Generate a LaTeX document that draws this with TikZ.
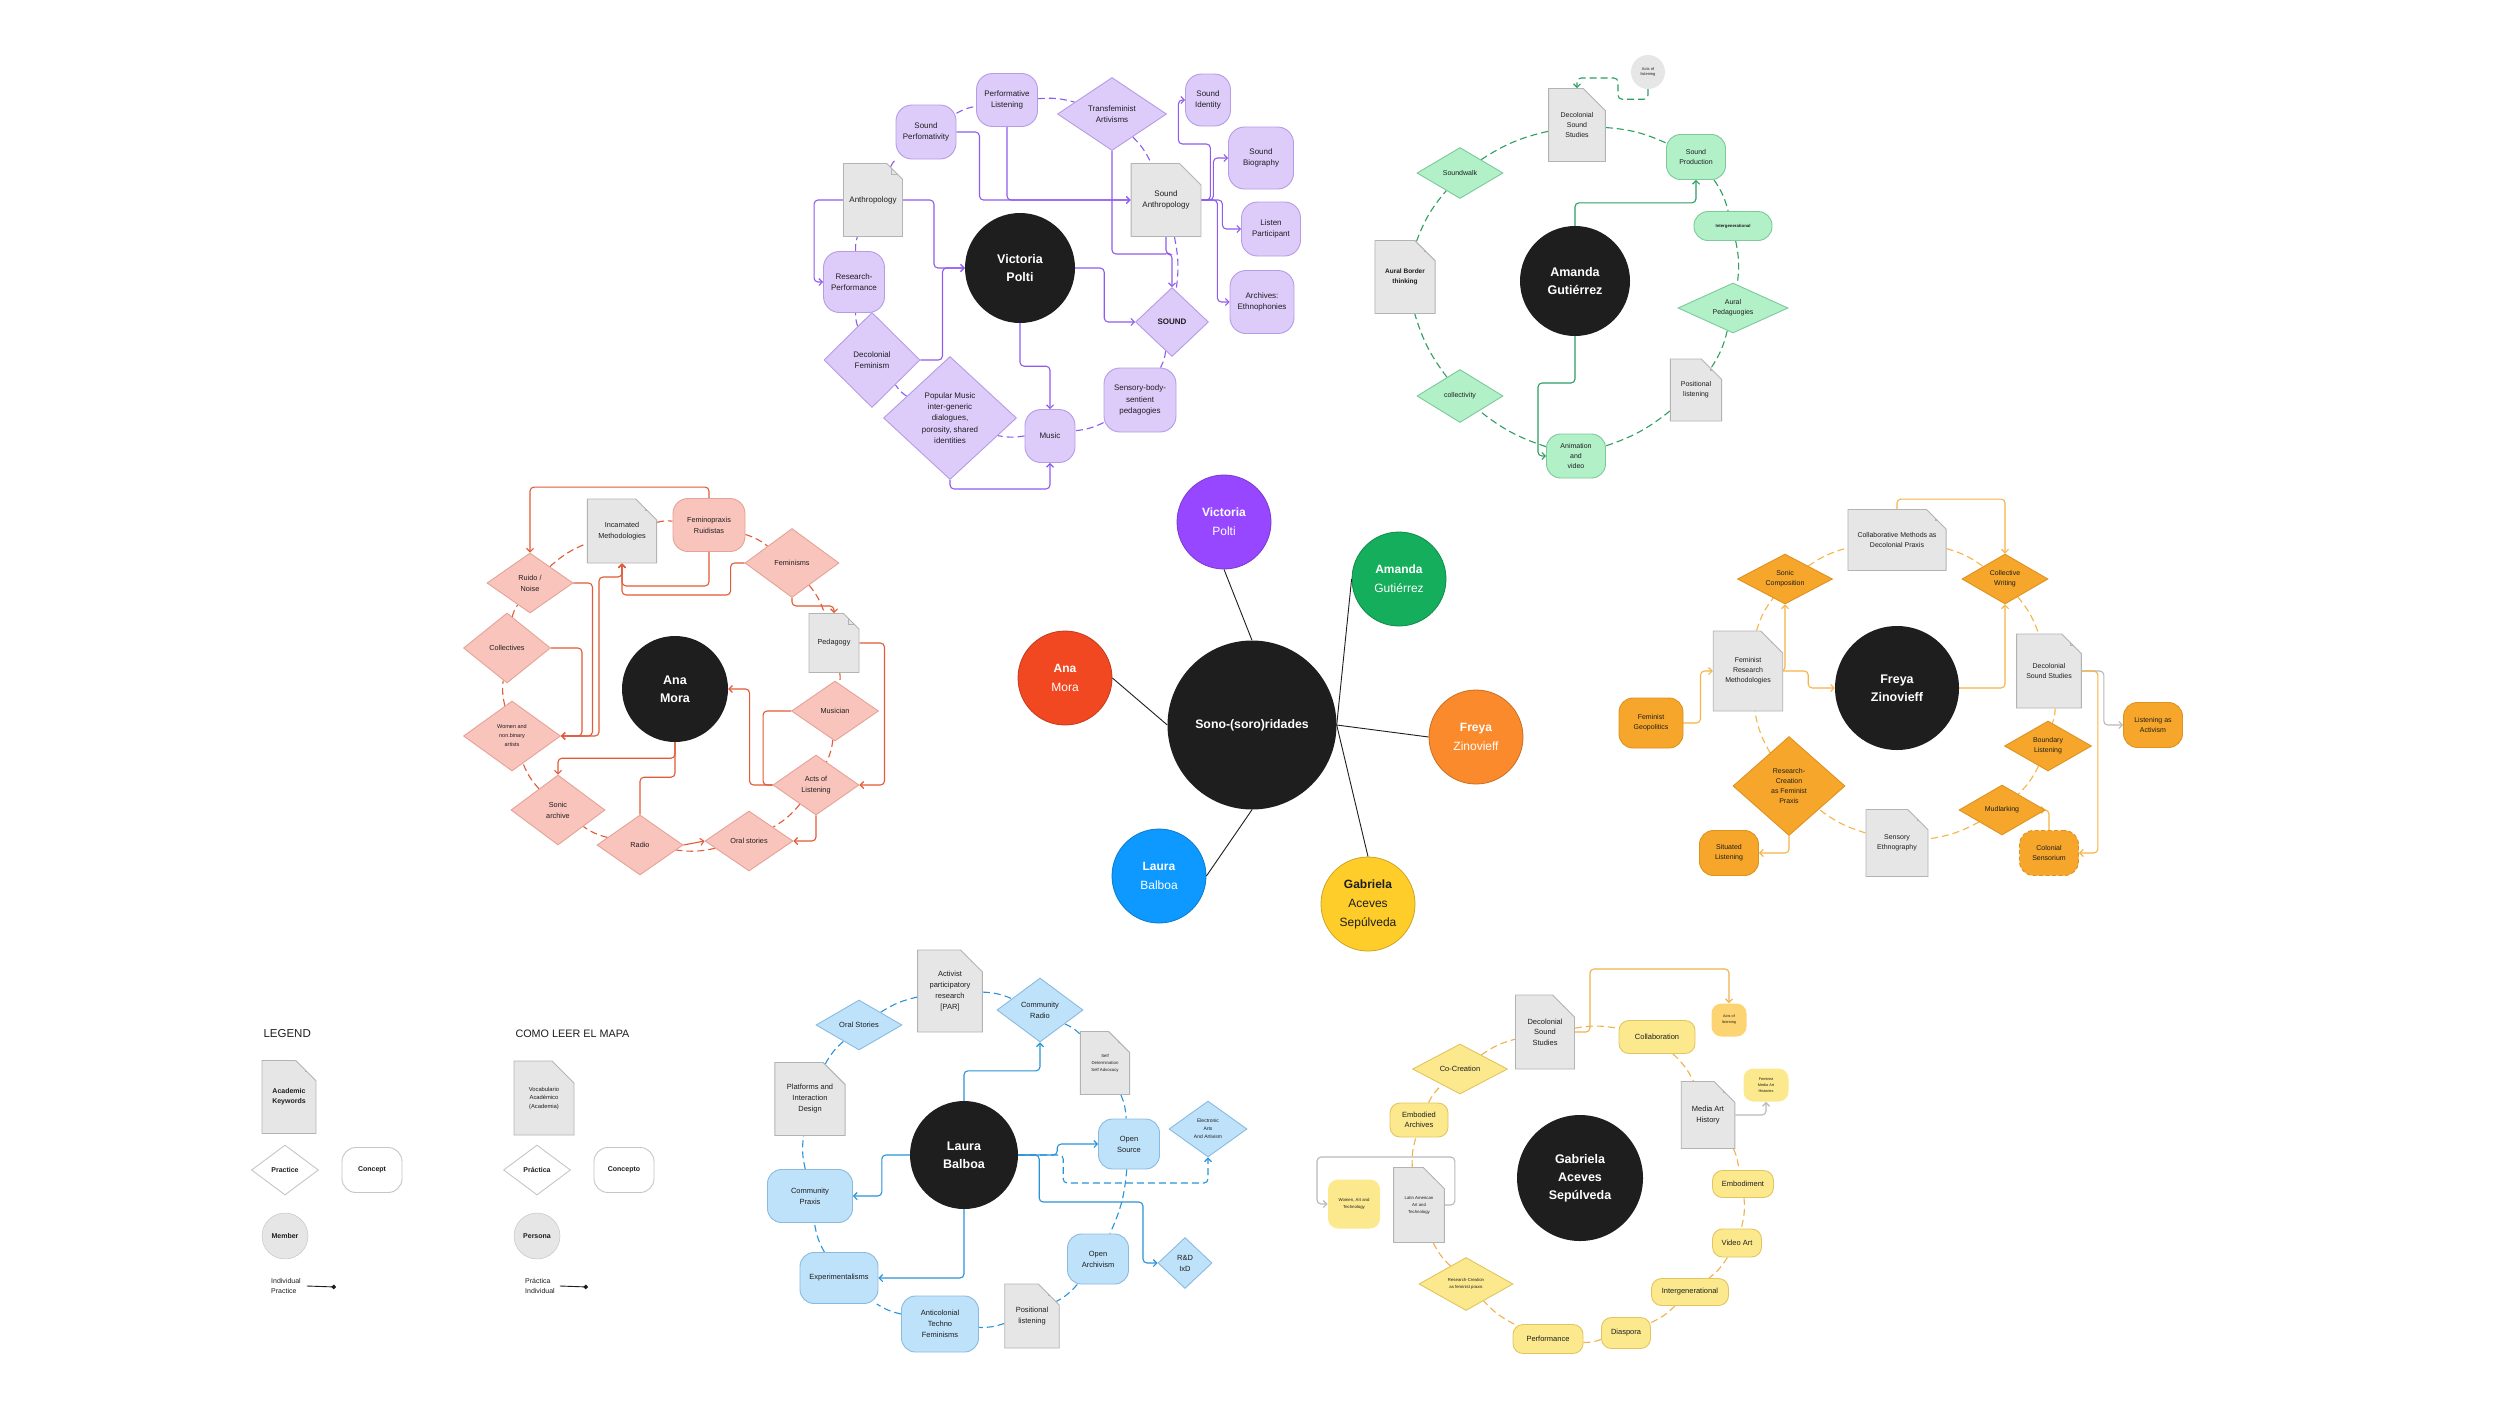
\documentclass[tikz,border=0pt]{standalone}
\usepackage{fontspec}
\setmainfont{Liberation Sans}
\usetikzlibrary{positioning, shapes.geometric, shapes.misc, arrows.meta, backgrounds}

\definecolor{ink}{HTML}{1E1E1E}
\definecolor{docfill}{HTML}{E6E6E6}
\definecolor{docdraw}{HTML}{B3B3B3}
\definecolor{cvic}{HTML}{9747FF}
\definecolor{cama}{HTML}{14AE5C}
\definecolor{cana}{HTML}{F24822}
\definecolor{cfre}{HTML}{FA8A2C}
\definecolor{clau}{HTML}{0D99FF}
\definecolor{cgab}{HTML}{FFCD29}
\definecolor{vfill}{HTML}{DDCCFA}\definecolor{vdraw}{HTML}{B69BE6}\definecolor{vline}{HTML}{8F5BEF}
\definecolor{afill}{HTML}{B2F0C8}\definecolor{adraw}{HTML}{7CC99A}\definecolor{aline}{HTML}{2F9E62}
\definecolor{rfill}{HTML}{F9C4BC}\definecolor{rdraw}{HTML}{E5A297}\definecolor{rline}{HTML}{E25A37}
\definecolor{ofill}{HTML}{F6A62A}\definecolor{odraw}{HTML}{DE9220}\definecolor{oline}{HTML}{F5B547}
\definecolor{bfill}{HTML}{BFE2FB}\definecolor{bdraw}{HTML}{8BBADF}\definecolor{bline}{HTML}{2A93D8}
\definecolor{yfill}{HTML}{FCE98E}\definecolor{ydraw}{HTML}{E2C55E}\definecolor{yline}{HTML}{F0B24C}
\colorlet{kfill}{white}\colorlet{kdraw}{gray}\colorlet{kline}{ink}

\newcommand{\setfs}[2]{\fontsize{#1}{#2}\selectfont}
\newcommand{\crad}{13pt}
\newcommand{\kfont}{\setfs{8}{10.5}}

\tikzset{
  hub/.style={circle, fill=ink, text=white, minimum size=169pt, inner sep=0pt, font=\bfseries\setfs{12.3}{15}},
  person/.style={circle, draw=#1!80!black, line width=0.8pt, fill=#1, text=white, minimum size=94pt, inner sep=0pt, align=center, font=\setfs{12}{19}},
  member/.style={circle, fill=ink, text=white, minimum size=#1, inner sep=0pt, align=center, font=\bfseries\setfs{12.5}{18}},
  concept/.style 2 args={rectangle, rounded corners=\crad, draw=kdraw, fill=kfill, line width=0.9pt, minimum width=#1pt, minimum height=#2pt, inner sep=1pt, align=center, text=ink, font=\kfont},
  practice/.style 2 args={diamond, aspect=2, draw=kdraw, fill=kfill, line width=0.9pt, minimum width=#1pt, minimum height=#2pt, inner sep=0pt, align=center, text=ink, font=\kfont},
  keyword/.style 2 args={chamfered rectangle, chamfered rectangle corners=north east, chamfered rectangle sep=11pt, draw=docdraw, fill=docfill, line width=0.9pt, minimum width=#1pt, minimum height=#2pt, inner sep=1pt, align=center, text=ink, font=\kfont,
    path picture={\draw[docdraw, line width=0.9pt] ([xshift=-11pt]path picture bounding box.north east) |- ([yshift=-11pt]path picture bounding box.north east);}},
  link/.style={draw=kline, line width=1.1pt, rounded corners=4pt, -{Straight Barb[length=3.5pt, width=7pt]}},
  dashlink/.style={link, dash pattern=on 7pt off 4pt},
  ring/.style={draw=kline, line width=1.1pt, dash pattern=on 7pt off 4pt},
  spoke/.style={draw=ink, line width=0.9pt},
  indiv/.style={draw=ink, line width=0.9pt, -{Circle[length=4.5pt]}},
}

\begin{document}
\begin{tikzpicture}[x=1pt, y=-1pt]
\useasboundingbox (0,0) rectangle (2500,1406);
\begin{scope}[on background layer]
  \fill[white] (0,0) rectangle (2500,1406);
\end{scope}

\node[hub] (sono) at (1252,725) {Sono-(soro)ridades};
\node[person=cvic] (pvic) at (1224,522) {\textbf{Victoria}\\Polti};
\node[person=cama] (pama) at (1399,579) {\textbf{Amanda}\\Gutiérrez};
\node[person=cana] (pana) at (1065,678) {\textbf{Ana}\\Mora};
\node[person=cfre] (pfre) at (1476,737) {\textbf{Freya}\\Zinovieff};
\node[person=clau] (plau) at (1159,876) {\textbf{Laura}\\Balboa};
\node[person=cgab, text=ink] (pgab) at (1368,904) {\textbf{Gabriela}\\Aceves\\Sepúlveda};
\draw[spoke] (pvic.south) -- (sono.north);
\draw[spoke] (pama.west) -- (sono.east);
\draw[spoke] (pfre.west) -- (sono.east);
\draw[spoke] (pgab.north) -- (sono.east);
\draw[spoke] (plau.east) -- (sono.south);
\draw[spoke] (pana.east) -- (sono.west);

% Victoria Polti
\begin{scope}
\colorlet{kfill}{vfill}\colorlet{kdraw}{vdraw}\colorlet{kline}{vline}
\renewcommand{\kfont}{\setfs{8}{11.3}}
\renewcommand{\crad}{16pt}
\node[member=110pt] (vm) at (1020,268) {Victoria\\Polti};
\node[concept={61}{53}] (perfl) at (1007,100) {Performative\\Listening};
\node[concept={60}{54}] (sperf) at (926,132) {Sound\\Perfomativity};
\node[practice={109}{73}] (tfa) at (1112,114) {Transfeminist\\Artivisms};
\node[concept={45}{52}] (sident) at (1208,100) {Sound\\Identity};
\node[concept={65}{62}] (sbio) at (1261,158) {Sound\\Biography};
\node[concept={59}{54}] (lpart) at (1271,229) {Listen\\Participant};
\node[concept={64}{63}] (arch) at (1262,302) {Archives:\\Ethnophonies};
\node[keyword={59}{73}] (anth) at (873,200) {Anthropology};
\node[keyword={63}{73}] (santh) at (1166,200) {Sound\\Anthropology};
\node[concept={61}{61}] (rperf) at (854,282) {Research-\\Performance};
\node[practice={73}{69}] (sound) at (1172,322) {\textbf{SOUND}};
\node[practice={96}{95}] (dfem) at (872,360) {Decolonial\\Feminism};
\node[practice={133}{123}, aspect=1] (popm) at (950,418) {Popular Music\\inter-generic\\dialogues,\\porosity, shared\\identities};
\node[concept={50}{53}] (music) at (1050,436) {Music};
\node[concept={72}{64}] (sens) at (1140,400) {Sensory-body-\\sentient\\pedagogies};
\coordinate (sajoin) at (1166,254);
\begin{scope}[on background layer]
\draw[link] (sperf.east) -- ++(23,0) |- (santh.west);
\draw[link] (perfl.south) |- (santh.west);
\draw[link] (anth.east) -- ++(31,0) |- (vm.west);
\draw[link] (anth.west) -- ++(-29,0) |- (rperf.west);
\draw[link] (dfem.east) -- ++(22,0) |- (vm.west);
\draw[link, -] (tfa.south) |- (sajoin);
\draw[link] (santh.south) -- (sajoin) -| (sound.north);
\draw[link] (santh.east) -- ++(9,0) -- ++(0,-56) -- ++(-32,0) |- (sident.west);
\draw[link] (santh.east) -- ++(12,0) |- (sbio.west);
\draw[link] (santh.east) -- ++(21,0) |- (lpart.west);
\draw[link] (santh.east) -- ++(16,0) |- (arch.west);
\draw[link] (vm.east) -- ++(29,0) |- (sound.west);
\draw[link] (vm.south) -- ++(0,43) -| (music.north);
\draw[link] (popm.south) -- ++(0,9) -| (music.south);
\foreach \a/\b in {perfl/tfa, tfa/santh, santh/sound, sound/sens, sens/music, music/popm, popm/dfem, dfem/rperf, rperf/anth, anth/sperf, sperf/perfl}
  \draw[ring] (\a) to[bend left=10] (\b);
\end{scope}
\end{scope}

% Amanda Gutierrez
\begin{scope}
\colorlet{kfill}{afill}\colorlet{kdraw}{adraw}\colorlet{kline}{aline}
\renewcommand{\kfont}{\setfs{7}{10.3}}
\renewcommand{\crad}{14pt}
\node[member=110pt] (am) at (1575,281) {Amanda\\Gutiérrez};
\node[circle, fill=docfill, minimum size=34pt, inner sep=0pt, align=center, text=ink, font=\setfs{4}{5.5}] (aacts) at (1648,72) {Acts of\\listening};
\node[keyword={45}{73}] (adss) at (1577,125) {Decolonial\\Sound\\Studies};
\node[concept={59}{45}] (aprod) at (1696,157) {Sound\\Production};
\node[concept={78}{29}, font=\bfseries\setfs{4.3}{5}] (aint) at (1733,226) {Intergenerational};
\node[practice={110}{50}] (aped) at (1733,308) {Aural\\Pedaguogies};
\node[keyword={45}{62}] (apos) at (1696,390) {Positional\\listening};
\node[concept={59}{44}] (aanim) at (1576,456) {Animation\\and\\video};
\node[practice={86}{53}] (acoll) at (1460,396) {collectivity};
\node[keyword={59}{73}, font=\bfseries\setfs{6.5}{10.3}] (abord) at (1405,277) {Aural Border\\thinking};
\node[practice={86}{51}] (awalk) at (1460,173) {Soundwalk};
\begin{scope}[on background layer]
\draw[dashlink] (aacts.south) -- ++(0,10) -| (1618,78) -| (adss.north);
\draw[link] (am.north) -- ++(0,-23) -| (aprod.south);
\draw[link] (am.south) |- (1538,383) |- (aanim.west);
\foreach \a/\b in {adss/aprod, aprod/aint, aint/aped, aped/apos, apos/aanim, aanim/acoll, acoll/abord, abord/awalk, awalk/adss}
  \draw[ring] (\a) to[bend left=10] (\b);
\end{scope}
\end{scope}

% Ana Mora
\begin{scope}
\colorlet{kfill}{rfill}\colorlet{kdraw}{rdraw}\colorlet{kline}{rline}
\renewcommand{\kfont}{\setfs{7.3}{11}}
\renewcommand{\crad}{15pt}
\node[member=106pt] (anm) at (675,689) {Ana\\Mora};
\node[keyword={67}{64}] (incm) at (622,531) {Incarnated\\Methodologies};
\node[concept={72}{53}] (fpr) at (709,525) {Feminopraxis\\Ruidistas};
\node[practice={94}{69}] (fems) at (792,563) {Feminisms};
\node[keyword={50}{59}] (peda) at (834,643) {Pedagogy};
\node[practice={87}{60}] (musn) at (835,711) {Musician};
\node[practice={86}{60}] (acts) at (816,785) {Acts of\\Listening};
\node[practice={88}{60}] (oral) at (749,841) {Oral stories};
\node[practice={86}{60}] (radio) at (640,845) {Radio};
\node[practice={94}{70}] (sonic) at (558,810) {Sonic\\archive};
\node[practice={97}{70}, font=\setfs{5.5}{9}] (wnb) at (512,736) {Women and\\non.binary\\artists};
\node[practice={87}{70}] (colls) at (507,648) {Collectives};
\node[practice={86}{60}] (ruido) at (530,583) {Ruido /\\Noise};
\begin{scope}[on background layer]
\draw[link] (fpr.north) -- ++(0,-11) -| (ruido.north);
\draw[link] (fpr.south) -- ++(0,34) -| (incm.south);
\draw[link] (fems.west) -- ++(-14,0) -- ++(0,32) -| (incm.south);
\draw[link] (fems.south) -- ++(0,8) -| (peda.north);
\draw[link] (ruido.east) -- ++(19,0) |- (wnb.east);
\draw[link] (colls.east) -- ++(31,0) |- (wnb.east);
\draw[link] (wnb.east) -| (599,577) -| (incm.south);
\draw[link] (peda.east) -- ++(25,0) |- (acts.east);
\draw[link] (acts.west) -- ++(-23,0) |- (anm.east);
\draw[link, -] (musn.west) -- ++(-28,0) |- (acts.west);
\draw[link] (acts.south) |- (oral.east);
\draw[link] (radio.east) -- (oral.west);
\draw[link] (anm.south) -- ++(0,16) -| (sonic.north);
\draw[link, -] (anm.south) -- ++(0,35) -| (radio.north);
\foreach \a/\b in {incm/fpr, fpr/fems, fems/peda, peda/musn, musn/acts, acts/oral, oral/radio, radio/sonic, sonic/wnb, wnb/colls, colls/ruido, ruido/incm}
  \draw[ring] (\a) to[bend left=10] (\b);
\end{scope}
\end{scope}

% Freya Zinovieff
\begin{scope}
\colorlet{kfill}{ofill}\colorlet{kdraw}{odraw}\colorlet{kline}{oline}
\renewcommand{\kfont}{\setfs{7}{10}}
\renewcommand{\crad}{14pt}
\node[member=124pt] (fm) at (1897,688) {Freya\\Zinovieff};
\node[keyword={92}{61}] (fcm) at (1897,540) {Collaborative Methods as\\Decolonial Praxis};
\node[practice={95}{50}] (fsc) at (1785,579) {Sonic\\Composition};
\node[practice={86}{50}] (fcw) at (2005,579) {Collective\\Writing};
\node[keyword={62}{80}] (frm) at (1748,671) {Feminist\\Research\\Methodologies};
\node[keyword={58}{74}] (fdss) at (2049,671) {Decolonial\\Sound Studies};
\node[concept={64}{50}] (fgeo) at (1651,723) {Feminist\\Geopolitics};
\node[concept={59}{45}] (flist) at (2153,725) {Listening as\\Activism};
\node[practice={87}{50}] (fbound) at (2048,746) {Boundary\\Listening};
\node[practice={112}{99}, aspect=1] (frc) at (1789,786) {Research-\\Creation\\as Feminist\\Praxis};
\node[practice={86}{50}] (fmud) at (2002,810) {Mudlarking};
\node[concept={59}{45}] (fsit) at (1729,853) {Situated\\Listening};
\node[keyword={62}{67}] (fsen) at (1897,843) {Sensory\\Ethnography};
\node[concept={59}{45}, dash pattern=on 4pt off 2.5pt] (fcol) at (2049,853) {Colonial\\Sensorium};
\begin{scope}[on background layer]
\draw[link] (fcm.north) -- ++(0,-10) -| (fcw.north);
\draw[link] (frm.east) -| (fsc.south);
\draw[link] (frm.east) -- ++(25,0) |- (fm.west);
\draw[link] (fgeo.east) -- ++(17,0) |- (frm.west);
\draw[link] (fm.east) -| (fcw.south);
\draw[link, draw=gray!55] (fdss.east) -- ++(22,0) |- (flist.west);
\draw[link] (fdss.east) -- ++(16,0) |- (fcol.east);
\draw[link] (fcol.north) |- (fmud.east);
\draw[link] (frc.south) |- (fsit.east);
\foreach \a/\b in {fcm/fcw, fcw/fdss, fdss/fbound, fbound/fmud, fmud/fsen, fsen/frc, frc/frm, frm/fsc, fsc/fcm}
  \draw[ring] (\a) to[bend left=10] (\b);
\end{scope}
\end{scope}

% Laura Balboa
\begin{scope}
\colorlet{kfill}{bfill}\colorlet{kdraw}{bdraw}\colorlet{kline}{bline}
\renewcommand{\kfont}{\setfs{7.5}{11}}
\renewcommand{\crad}{14pt}
\node[member=108pt] (lm) at (964,1155) {Laura\\Balboa};
\node[practice={86}{50}] (loral) at (859,1025) {Oral Stories};
\node[keyword={58}{82}] (lpar) at (950,991) {Activist\\participatory\\research\\{[PAR]}};
\node[practice={86}{64}] (lradio) at (1040,1010) {Community\\Radio};
\node[keyword={45}{63}, font=\setfs{4.3}{7}] (lself) at (1105,1063) {Self\\Determination\\Self Advocacy};
\node[practice={78}{56}, font=\setfs{5}{8}] (lelec) at (1208,1129) {Electronic\\Arts\\And Artivism};
\node[concept={61}{50}] (lopen) at (1129,1144) {Open\\Source};
\node[keyword={58}{73}] (lplat) at (810,1099) {Platforms and\\Interaction\\Design};
\node[concept={85}{53}] (lcomm) at (810,1196) {Community\\Praxis};
\node[concept={78}{51}] (lexp) at (839,1278) {Experimentalisms};
\node[concept={77}{56}] (lanti) at (940,1324) {Anticolonial\\Techno\\Feminisms};
\node[keyword={45}{64}] (lpos) at (1032,1316) {Positional\\listening};
\node[concept={61}{50}] (larch) at (1098,1259) {Open\\Archivism};
\node[practice={54}{51}, aspect=1] (lrd) at (1185,1263) {R\&D\\IxD};
\begin{scope}[on background layer]
\draw[link] (lm.north) -- ++(0,-30) -| (lradio.south);
\draw[link] (lm.west) -- ++(-28,0) |- (lcomm.east);
\draw[link] (lm.south) |- (lexp.east);
\draw[link] (lm.east) -- ++(39,0) |- (lopen.west);
\draw[link] (lm.east) -- ++(21,0) |- (1143,1202) |- (lrd.west);
\draw[dashlink] (lm.east) -- ++(45,0) -- ++(0,28) -| (lelec.south);
\foreach \a/\b in {loral/lpar, lpar/lradio, lradio/lself, lself/lopen, lopen/larch, larch/lpos, lpos/lanti, lanti/lexp, lexp/lcomm, lcomm/lplat, lplat/loral}
  \draw[ring] (\a) to[bend left=10] (\b);
\end{scope}
\end{scope}

% Gabriela Aceves Sepulveda
\begin{scope}
\colorlet{kfill}{yfill}\colorlet{kdraw}{ydraw}\colorlet{kline}{yline}
\renewcommand{\kfont}{\setfs{7.5}{10.5}}
\renewcommand{\crad}{10pt}
\node[member=126pt] (gm) at (1580,1178) {Gabriela\\Aceves\\Sepúlveda};
\node[keyword={45}{74}] (gdss) at (1545,1032) {Decolonial\\Sound\\Studies};
\node[concept={76}{33}] (gcol) at (1657,1037) {Collaboration};
\node[concept={35}{33}, draw=none, fill=yfill!80!orange, font=\setfs{3.8}{6}] (gacts) at (1729,1020) {Acts of\\listening};
\node[concept={45}{33}, draw=none, font=\setfs{3.8}{6}] (gfem) at (1766,1085) {Feminist\\Media Art\\Histories};
\node[keyword={50}{67}] (gmah) at (1708,1115) {Media Art\\History};
\node[concept={61}{27}] (gemb) at (1743,1184) {Embodiment};
\node[concept={49}{28}] (gvid) at (1737,1243) {Video Art};
\node[concept={77}{27}] (gint) at (1690,1292) {Intergenerational};
\node[concept={49}{31}] (gdia) at (1626,1333) {Diaspora};
\node[concept={70}{29}] (gperf) at (1548,1339) {Performance};
\node[practice={94}{53}, font=\setfs{4.3}{7}] (grc) at (1466,1284) {Research-Creation\\as feminist praxis};
\node[keyword={50}{75}, font=\setfs{4.3}{7}] (glat) at (1419,1205) {Latin American\\Art and\\Technology};
\node[concept={52}{49}, draw=none, font=\setfs{4.3}{7}] (gwom) at (1354,1204) {Women, Art and\\Technology};
\node[concept={58}{34}] (gembar) at (1419,1120) {Embodied\\Archives};
\node[practice={95}{50}] (gco) at (1460,1069) {Co-Creation};
\begin{scope}[on background layer]
\draw[link] (gdss.east) -- ++(15,0) -- ++(0,-63) -| (gacts.north);
\draw[link, draw=gray!55] (gmah.east) -| (gfem.south);
\draw[link, draw=gray!55] (glat.east) -- ++(10,0) |- (1317,1157) |- (gwom.west);
\foreach \a/\b in {gdss/gcol, gcol/gmah, gmah/gemb, gemb/gvid, gvid/gint, gint/gdia, gdia/gperf, gperf/grc, grc/glat, glat/gembar, gembar/gco, gco/gdss}
  \draw[ring] (\a) to[bend left=10] (\b);
\end{scope}
\end{scope}

% legend
\begin{scope}
\colorlet{kfill}{white}\colorlet{kdraw}{gray!45}\colorlet{kline}{ink}
\renewcommand{\kfont}{\bfseries\setfs{7}{10}}
\renewcommand{\crad}{14pt}
\node[anchor=west, font=\setfs{11.5}{14}, text=ink] (lgtitle) at (260,1034) {LEGEND};
\node[keyword={53}{73}] (lgkey) at (289,1097) {Academic\\Keywords};
\node[practice={67}{50}] (lgprac) at (285,1170) {Practice};
\node[concept={60}{45}] (lgconc) at (372,1170) {Concept};
\node[member=46pt, fill=docfill, draw=gray!50, text=ink, font=\bfseries\setfs{7}{9}] (lgmem) at (285,1236) {Member};
\node[anchor=west, align=left, font=\setfs{7}{10}, text=ink, inner sep=0pt] (lgind) at (271,1286) {Individual\\Practice};
\coordinate (lgdot) at (336,1287);
\draw[indiv] ([xshift=6pt]lgind.east) -- (lgdot);
\node[anchor=west, font=\setfs{10.8}{14}, text=ink] (letitle) at (512,1034) {COMO LEER EL MAPA};
\node[keyword={60}{74}, font=\setfs{5.8}{8.5}] (lekey) at (544,1098) {Vocabulario\\Académico\\(Academia)};
\node[practice={67}{50}] (leprac) at (537,1170) {Práctica};
\node[concept={60}{45}] (leconc) at (624,1170) {Concepto};
\node[member=46pt, fill=docfill, draw=gray!50, text=ink, font=\bfseries\setfs{7}{9}] (lemem) at (537,1236) {Persona};
\node[anchor=west, align=left, font=\setfs{7}{10}, text=ink, inner sep=0pt] (leind) at (525,1286) {Práctica\\Individual};
\coordinate (ledot) at (588,1287);
\draw[indiv] ([xshift=5pt]leind.east) -- (ledot);
\end{scope}
\end{tikzpicture}
\end{document}
